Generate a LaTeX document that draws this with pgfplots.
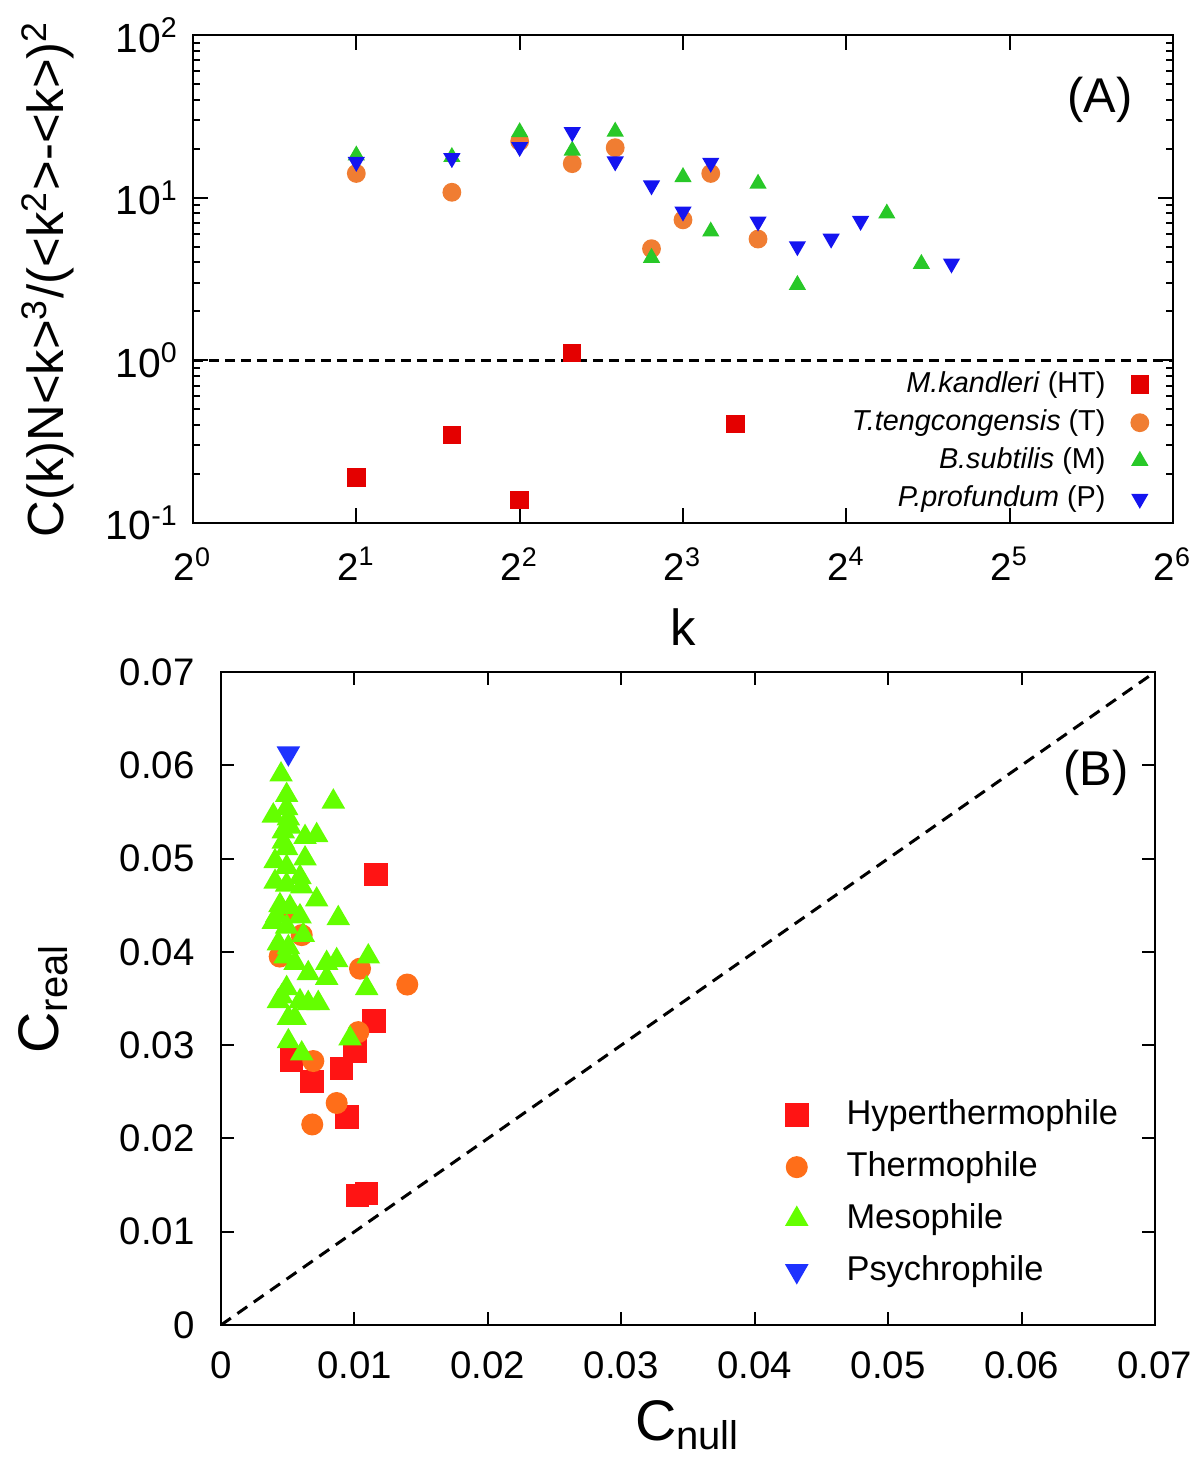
\documentclass[border=0pt]{standalone}
\usepackage{fontspec}
\setmainfont{Liberation Sans}
\usepackage{pgfplots}
\usepackage{pgfplotstable}
\pgfplotsset{compat=1.18}

% panel A colours
\definecolor{aRed}{RGB}{228,0,0}
\definecolor{aOrange}{RGB}{240,125,50}
\definecolor{aGreen}{RGB}{40,200,40}
\definecolor{aBlue}{RGB}{20,20,240}
% panel B colours
\definecolor{bRed}{RGB}{255,20,20}
\definecolor{bOrange}{RGB}{255,110,25}
\definecolor{bGreen}{RGB}{100,255,0}
\definecolor{bBlue}{RGB}{30,50,255}

% (A) C(k) scaled, one table per organism
\pgfplotstableread{
k C
2 0.190
3 0.349
4 0.138
5 1.108
10 0.405
}\mkan
\pgfplotstableread{
k C
2 14.1
3 10.8
4 22.2
5 16.2
6 20.3
7 4.86
8 7.31
9 14.1
11 5.57
}\tten
\pgfplotstableread{
k C
2 18.2
3 17.8
4 25.3
5 19.5
6 25.5
7 4.27
8 13.4
9 6.2
11 12.2
13 2.91
19 8.0
22 3.92
}\bsub
\pgfplotstableread{
k C
2 16.6
3 17.5
4 20.5
5 25.3
6 16.7
7 11.9
8 8.22
9 16.4
11 7.14
13 5.03
15 5.6
17 7.2
25 3.94
}\ppro

% (B) C_null vs C_real
\pgfplotstableread{
cn cr
0.01162 0.0483
0.01147 0.0326
0.01004 0.0294
0.00527 0.0284
0.00902 0.0275
0.00684 0.0261
0.00944 0.0223
0.01022 0.0139
0.01092 0.0141
}\hyper
\pgfplotstableread{
cn cr
0.01042 0.0382
0.01396 0.0365
0.01029 0.0314
0.00692 0.0283
0.00867 0.0238
0.00684 0.0215
0.00605 0.0418
0.00440 0.0395
0.00502 0.0443
}\thermo
\pgfplotstableread{
cn cr
0.00450 0.0590
0.00492 0.0568
0.00842 0.0561
0.00492 0.0554
0.00392 0.0546
0.00505 0.0543
0.00517 0.0534
0.00467 0.0529
0.00630 0.0523
0.00717 0.0525
0.00467 0.0518
0.00492 0.0511
0.00630 0.0500
0.00405 0.0497
0.00492 0.0491
0.00592 0.0480
0.00405 0.0475
0.00492 0.0472
0.00605 0.0470
0.00717 0.0456
0.00442 0.0450
0.00517 0.0448
0.00417 0.0439
0.00592 0.0438
0.00879 0.0436
0.00392 0.0432
0.00492 0.0427
0.00617 0.0418
0.00430 0.0409
0.00505 0.0405
0.00480 0.0395
0.00555 0.0388
0.00867 0.0391
0.00792 0.0388
0.01104 0.0395
0.00654 0.0377
0.00792 0.0372
0.00492 0.0361
0.01092 0.0361
0.00455 0.0352
0.00592 0.0347
0.00654 0.0345
0.00729 0.0345
0.00430 0.0347
0.00505 0.0329
0.00555 0.0329
0.00967 0.0307
0.00505 0.0304
0.00605 0.0291
}\meso
\pgfplotstableread{
cn cr
0.00505 0.0613
}\psychro

\pgfplotsset{
  every axis/.append style={line width=0.5pt},
  tick style={black, line width=0.5pt},
  tick align=inside,
  tick label style={font=\fontsize{9.6}{11}\selectfont},
  label style={font=\fontsize{12.7}{15}\selectfont},
}

\begin{document}
\begin{tikzpicture}
\useasboundingbox (0pt,0pt) rectangle (300pt,-368pt);

\begin{axis}[
  at={(48.25pt,-130.75pt)}, anchor=south west,
  scale only axis, width=245pt, height=122pt,
  xmode=log, ymode=log, log basis x=2,
  xmin=1, xmax=64, ymin=0.1, ymax=100,
  xtick={1,2,4,8,16,32,64},
  xticklabels={2\textsuperscript{0},2\textsuperscript{1},2\textsuperscript{2},2\textsuperscript{3},2\textsuperscript{4},2\textsuperscript{5},2\textsuperscript{6}},
  ytick={0.1,1,10,100},
  yticklabels={10\textsuperscript{-1},10\textsuperscript{0},10\textsuperscript{1},10\textsuperscript{2}},
  minor ytick={0.2,0.3,0.4,0.5,0.6,0.7,0.8,0.9,2,3,4,5,6,7,8,9,20,30,40,50,60,70,80,90},
  xminorticks=false,
  major tick length=3.75pt, minor tick length=1.8pt,
  xticklabel style={yshift=-2.5pt},
  yticklabel style={font=\fontsize{10.2}{12}\selectfont},
  xlabel={k},
  ylabel={C(k)N<k>\textsuperscript{3}/(<k\textsuperscript{2}>-<k>)\textsuperscript{2}},
  xlabel style={at={(axis description cs:0.5,-0.213)}, anchor=center},
  ylabel style={at={(axis description cs:-0.148,0.5)}, anchor=center},
  legend style={at={(0.988,0.346)}, anchor=north east, draw=none, fill=none,
    font=\fontsize{7.2}{8.6}\selectfont, row sep=-1.2pt, column sep=4.5pt},
  legend cell align=right, legend plot pos=right,
]
\addplot[black, line width=0.75pt, dash pattern=on 2.5pt off 1.5pt, forget plot]
  coordinates {(1,1) (64,1)};
\addplot[only marks, mark=square*, color=aRed, mark size=2.05pt] table[x=k,y=C] {\mkan};
\addplot[only marks, mark=*, color=aOrange, mark size=2.1pt] table[x=k,y=C] {\tten};
\addplot[only marks, mark=triangle*, color=aGreen, mark size=2.0pt] table[x=k,y=C] {\bsub};
\addplot[only marks, mark=triangle*, mark options={rotate=180}, color=aBlue, mark size=2.0pt] table[x=k,y=C] {\ppro};
\legend{\textit{M.kandleri} (HT), \textit{T.tengcongensis} (T), \textit{B.subtilis} (M), \textit{P.profundum} (P)}
\node[font=\fontsize{12.2}{14}\selectfont] at (rel axis cs:0.9255,0.867) {(A)};
\end{axis}

\begin{axis}[
  at={(55.25pt,-331.25pt)}, anchor=south west,
  scale only axis, width=233.5pt, height=163.25pt,
  xmin=0, xmax=0.07, ymin=0, ymax=0.07,
  xtick={0,0.01,0.02,0.03,0.04,0.05,0.06,0.07},
  ytick={0,0.01,0.02,0.03,0.04,0.05,0.06,0.07},
  scaled ticks=false,
  xticklabel style={yshift=-3pt, /pgf/number format/fixed, /pgf/number format/precision=2, /pgf/number format/assume math mode=true},
  yticklabel style={xshift=-3pt, /pgf/number format/fixed, /pgf/number format/precision=2, /pgf/number format/assume math mode=true},
  major tick length=3.25pt,
  label style={font=\fontsize{14.3}{17}\selectfont},
  xlabel={C\textsubscript{null}},
  ylabel={C\textsubscript{real}},
  xlabel style={at={(axis description cs:0.5,-0.153)}, anchor=center},
  ylabel style={at={(axis description cs:-0.19,0.5)}, anchor=center},
  legend style={at={(0.591,0.371)}, anchor=north west, draw=none, fill=none,
    font=\fontsize{8.6}{10}\selectfont, row sep=1.25pt, column sep=7.75pt},
  legend cell align=left,
]
\addplot[black, line width=0.75pt, dash pattern=on 3pt off 2pt, forget plot]
  coordinates {(0,0) (0.07,0.07)};
\addplot[only marks, mark=square*, color=bRed, mark size=2.7pt] table[x=cn,y=cr] {\hyper};
\addplot[only marks, mark=*, color=bOrange, mark size=2.5pt] table[x=cn,y=cr] {\thermo};
\addplot[only marks, mark=triangle*, color=bGreen, mark size=2.9pt] table[x=cn,y=cr] {\meso};
\addplot[only marks, mark=triangle*, mark options={rotate=180}, color=bBlue, mark size=2.9pt] table[x=cn,y=cr] {\psychro};
\legend{Hyperthermophile, Thermophile, Mesophile, Psychrophile}
\node[font=\fontsize{12.2}{14}\selectfont] at (rel axis cs:0.937,0.845) {(B)};
\end{axis}
\end{tikzpicture}
\end{document}
